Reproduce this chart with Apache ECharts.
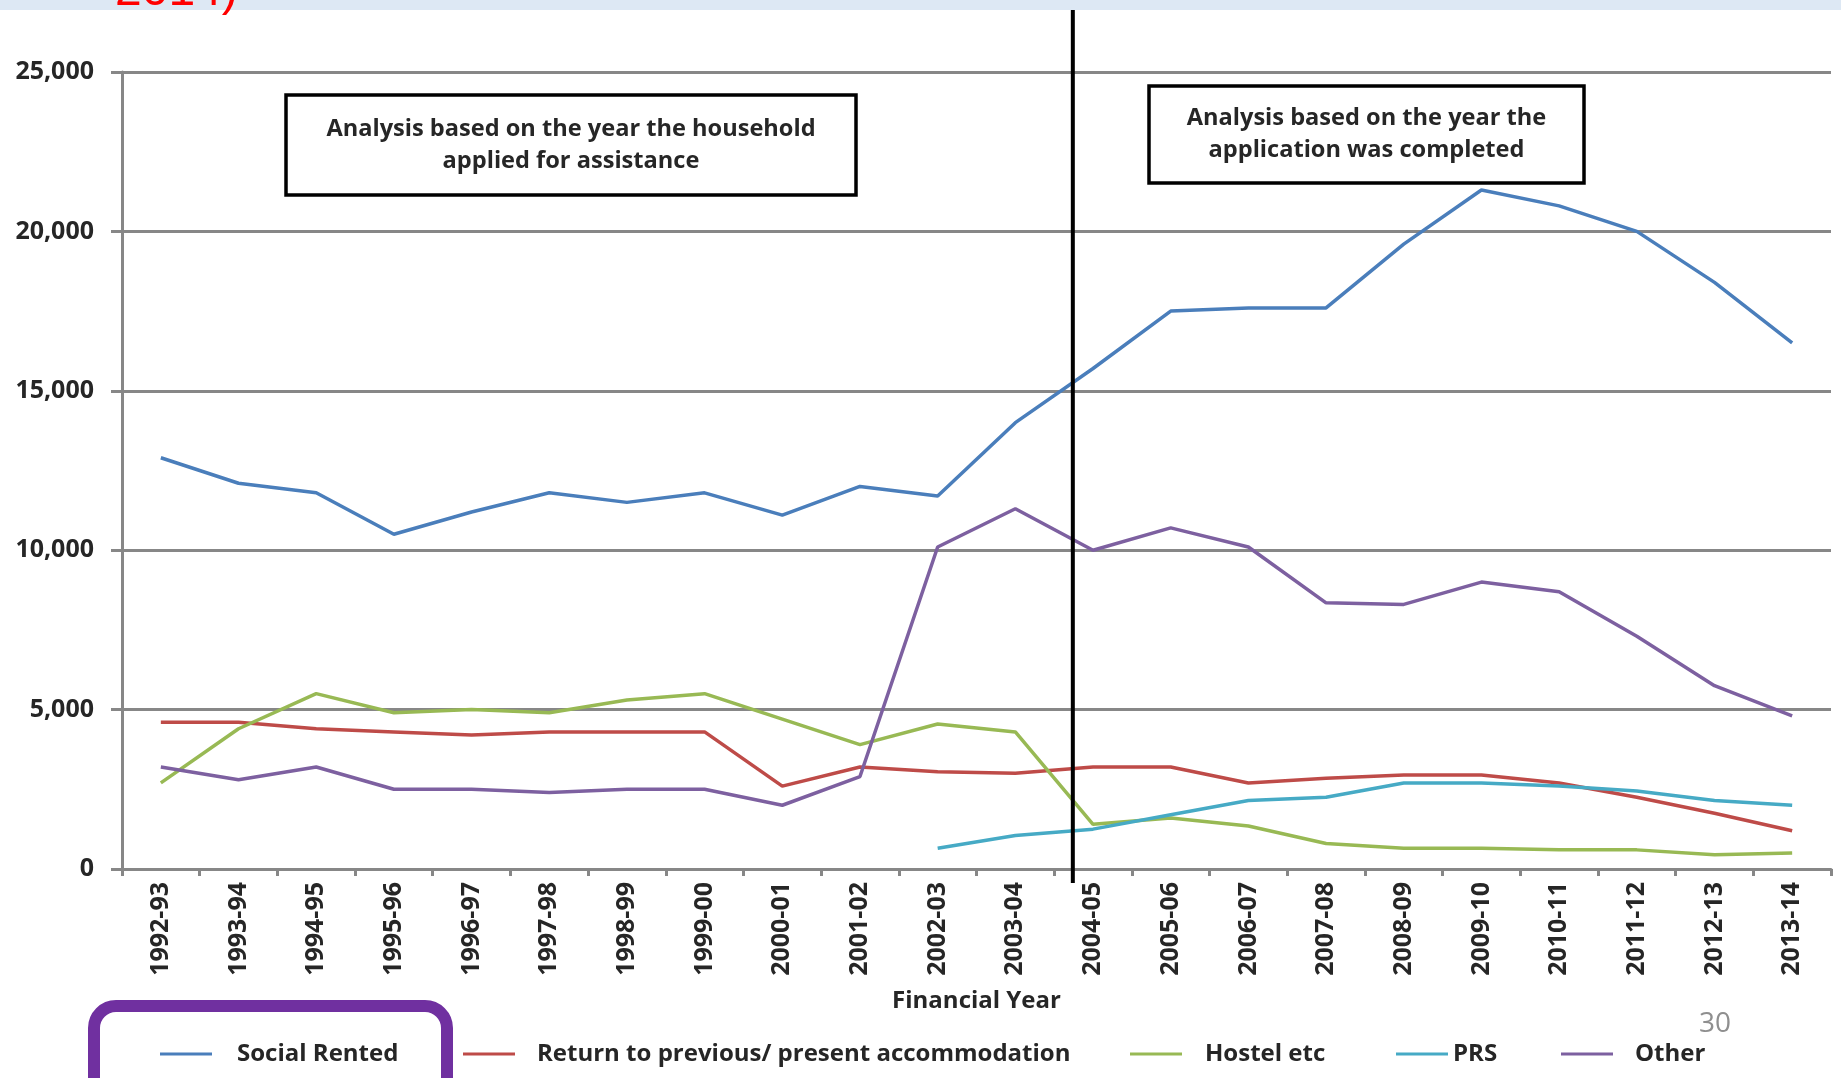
<!DOCTYPE html>
<html>
<head>
<meta charset="utf-8">
<script src="https://cdn.jsdelivr.net/npm/echarts@6/dist/echarts.min.js"></script>
<style>
  html, body { margin: 0; padding: 0; background: #fff; }
  #chart { width: 1841px; height: 1078px; }
</style>
</head>
<body>
<div id="chart"></div>
<script>
    // financial years on the x axis
    var years = ['1992-93', '1993-94', '1994-95', '1995-96', '1996-97', '1997-98', '1998-99',
        '1999-00', '2000-01', '2001-02', '2002-03', '2003-04', '2004-05', '2005-06', '2006-07',
        '2007-08', '2008-09', '2009-10', '2010-11', '2011-12', '2012-13', '2013-14'];

    var yTicks = [0, 5000, 10000, 15000, 20000, 25000];

    var socialRented = [12900, 12100, 11800, 10500, 11200, 11800, 11500, 11800, 11100, 12000, 11700,
        14000, 15700, 17500, 17600, 17600, 19600, 21300, 20800, 20000, 18400, 16500];
    var returnPrev = [4600, 4600, 4400, 4300, 4200, 4300, 4300, 4300, 2600, 3200, 3050,
        3000, 3200, 3200, 2700, 2850, 2950, 2950, 2700, 2250, 1750, 1200];
    var hostel = [2700, 4400, 5500, 4900, 5000, 4900, 5300, 5500, 4700, 3900, 4550,
        4300, 1400, 1600, 1350, 800, 650, 650, 600, 600, 450, 500];
    var prs = [null, null, null, null, null, null, null, null, null, null, 650,
        1050, 1250, 1700, 2150, 2250, 2700, 2700, 2600, 2450, 2150, 2000];
    var other = [3200, 2800, 3200, 2500, 2500, 2400, 2500, 2500, 2000, 2900, 10100,
        11300, 10000, 10700, 10100, 8350, 8300, 9000, 8700, 7300, 5750, 4800];

    var seriesNames = ['Social Rented', 'Return to previous/ present accommodation', 'Hostel etc', 'PRS', 'Other'];
    var colors = ['#4a7ebb', '#be4b48', '#98b954', '#46aac5', '#7d60a0'];

    // the split line sits between 2003-04 and 2004-05
    var splitAt = 11.74;

    var FONT = '"Open Sans"';
    var TXT = '#262626';
    var GRID_GREY = '#878787';

    var chart = echarts.init(document.getElementById('chart'));

    function lineSeries(name, data, i) {
        return {
            name: name,
            type: 'line',
            data: data,
            symbol: 'none',
            connectNulls: false,
            lineStyle: { width: 3.5, color: colors[i] },
            itemStyle: { color: colors[i] },
            z: 3
        };
    }

    var legendLeft = [155, 458, 1125, 1391, 1556];
    var legendPad = [20, 17, 18, 0, 17];
    var legends = seriesNames.map(function (n, i) {
        return {
            data: [n],
            left: legendLeft[i],
            top: 1037,
            icon: 'rect',
            itemWidth: 52,
            itemHeight: 3,
            textStyle: {
                fontFamily: FONT, fontWeight: 'bold', fontSize: 24, color: TXT,
                padding: [0, 0, 0, legendPad[i]]
            }
        };
    });

    var option = {
        backgroundColor: '#ffffff',
        animation: false,
        color: colors,
        grid: { left: 122, right: 10, top: 72, bottom: 209, containLabel: false },
        legend: legends,
        xAxis: {
            type: 'category',
            data: years,
            boundaryGap: true,
            name: 'Financial Year',
            nameLocation: 'middle',
            nameGap: 120,
            nameTextStyle: { fontFamily: FONT, fontWeight: 'bold', fontSize: 24, color: TXT },
            axisLine: { lineStyle: { color: GRID_GREY, width: 3 } },
            axisTick: { show: true, length: 7, interval: 0, lineStyle: { color: GRID_GREY, width: 3 } },
            axisLabel: {
                rotate: 90, interval: 0, margin: 13,
                fontFamily: FONT, fontWeight: 'bold', fontSize: 25, color: TXT
            },
            splitLine: { show: false }
        },
        yAxis: {
            type: 'value',
            min: yTicks[0],
            max: yTicks[yTicks.length - 1],
            interval: yTicks[1] - yTicks[0],
            axisLine: { show: true, lineStyle: { color: GRID_GREY, width: 3 } },
            axisTick: { show: true, length: 11, lineStyle: { color: GRID_GREY, width: 3 } },
            axisLabel: {
                margin: 28,
                fontFamily: FONT, fontWeight: 'bold', fontSize: 25, color: TXT,
                formatter: function (v) { return v.toLocaleString('en-US'); }
            },
            splitLine: { show: true, lineStyle: { color: GRID_GREY, width: 3 } }
        },
        series: [
            lineSeries(seriesNames[0], socialRented, 0),
            lineSeries(seriesNames[1], returnPrev, 1),
            lineSeries(seriesNames[2], hostel, 2),
            lineSeries(seriesNames[3], prs, 3),
            lineSeries(seriesNames[4], other, 4)
        ]
    };
    chart.setOption(option);

    // split line position from the category axis
    var p0 = chart.convertToPixel({ xAxisIndex: 0 }, Math.floor(splitAt));
    var p1 = chart.convertToPixel({ xAxisIndex: 0 }, Math.floor(splitAt) + 1);
    var splitX = p0 + (p1 - p0) * (splitAt - Math.floor(splitAt));

    function noteBox(id, x, y, w, h, lines) {
        return {
            type: 'group', id: id, z: 10,
            children: [
                { type: 'rect', shape: { x: x, y: y, width: w, height: h },
                  style: { fill: '#ffffff', stroke: '#000', lineWidth: 3.5 } },
                { type: 'text', x: x + w / 2, y: y + h / 2,
                  style: { text: lines.join('\n'), fill: TXT, align: 'center', verticalAlign: 'middle',
                           font: 'bold 23.6px ' + FONT, lineHeight: 32 } }
            ]
        };
    }

    chart.setOption({
        graphic: [
            { type: 'rect', id: 'band', z: 0, shape: { x: 0, y: 0, width: 1841, height: 10 },
              style: { fill: '#dde8f4' } },
            { type: 'text', id: 'title', z: 1, x: 115, y: 16,
              style: { text: '2014)', fill: '#ff0000', font: '48px "Liberation Sans"', verticalAlign: 'bottom' } },
            { type: 'line', id: 'split', z: 9,
              shape: { x1: splitX, y1: 10, x2: splitX, y2: 883 },
              style: { stroke: '#000', lineWidth: 4 } },
            noteBox('box1', 286, 95, 570, 100, ['Analysis based on the year the household', 'applied for assistance']),
            noteBox('box2', 1149, 86, 435, 97, ['Analysis based on the year the', 'application was completed']),
            { type: 'rect', id: 'hilite', z: 10,
              shape: { x: 94, y: 1006, width: 353, height: 120, r: 22 },
              style: { fill: 'none', stroke: '#7030a0', lineWidth: 12 } },
            { type: 'text', id: 'page', z: 10, x: 1715, y: 1024,
              style: { text: '30', fill: '#8f8f8f', font: '28px "Open Sans"', align: 'center', verticalAlign: 'middle' } }
        ]
    });
</script>
</body>
</html>
